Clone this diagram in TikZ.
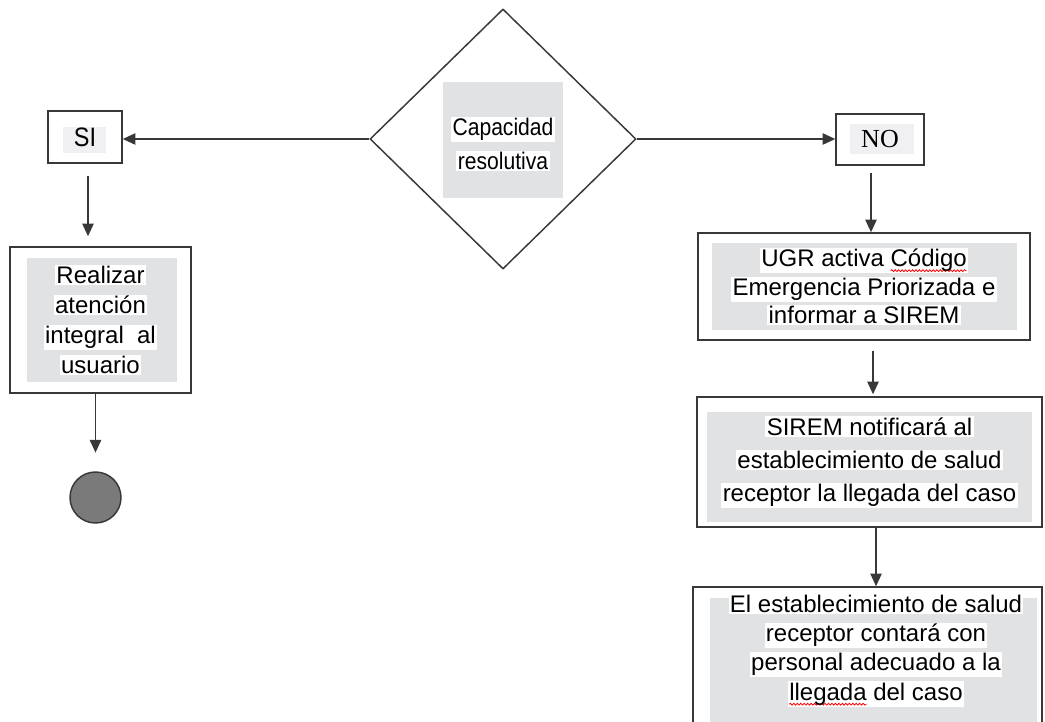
\documentclass[tikz,border=0pt]{standalone}
\usepackage{fontspec}
\setmainfont{Liberation Sans}
\newfontfamily\timesno{Liberation Serif}
\newfontfamily\condsans[FakeStretch=0.88]{Liberation Sans}
\usetikzlibrary{shapes.geometric,arrows.meta,decorations.pathmorphing}

% white strip behind each line of text
\newcommand{\hl}[1]{{\setlength{\fboxsep}{1pt}\colorbox{white}{#1}}}
% red spell-check wave under a word
\newdimen\wavelen
\newcommand{\redwave}[1]{\setbox0\hbox{#1}\wavelen=\wd0\rlap{\tikz[overlay]\draw[red, line width=0.6pt, decorate, decoration={snake, amplitude=0.7pt, segment length=2.6pt}] (0pt,-3pt) -- (\wavelen,-3pt);}\box0\relax}

\begin{document}
\begin{tikzpicture}[x=0.75pt, y=-0.75pt, >={Triangle[length=9.5pt,width=8.5pt]}]
			\definecolor{linegray}{rgb}{0.22,0.22,0.22}
				\definecolor{patchgray}{rgb}{0.88,0.885,0.895}
				\tikzset{
					box/.style={draw=linegray, line width=1.1pt, rectangle, inner sep=0pt, align=center},
					flow/.style={draw=linegray, line width=1.1pt, ->}
				}
				
				\useasboundingbox (0,0) rectangle (1045,721);
				\clip (0,0) rectangle (1045,721);
				
				% grey patches of the scan
				\fill[patchgray] (443,82) rectangle (563,198);
				\fill[patchgray!50] (63,127) rectangle (106,153);
				\fill[patchgray!50] (850,124) rectangle (914,154);
				\fill[patchgray] (27,258) rectangle (177,382);
				\fill[patchgray] (712,243) rectangle (1017,330);
				\fill[patchgray] (707,412) rectangle (1032,522);
				\fill[patchgray] (710,598) rectangle (1037,730);
				
				\node[shape=diamond, draw=linegray, line width=1.1pt, inner sep=0pt, minimum width=199.5pt, minimum height=195pt] (cap) at (503,139) {};
				\node[align=center, inner sep=0pt, font=\condsans\fontsize{18}{26}\selectfont] (captxt) at (503,144) {\hl{Capacidad}\\\hl{resolutiva}};
				
				\node[box, minimum width=55.5pt, minimum height=39pt, font=\condsans\fontsize{20}{22}\selectfont] (si) at (85,137) {SI};
				\node[box, minimum width=66pt, minimum height=38.25pt, font=\timesno\fontsize{19.5}{22}\selectfont] (no) at (880,139.5) {NO};
				
				\node[box, minimum width=135.75pt, minimum height=109.5pt, font=\fontsize{18}{22.5}\selectfont] (realizar) at (100.5,320) {\hl{Realizar}\\\hl{atención}\\\hl{integral\ \ al}\\\hl{usuario}};
				\node[circle, draw=linegray, line width=1.1pt, fill=black!52, minimum size=38.25pt, inner sep=0pt] (fin) at (95.5,497.5) {};
				
				\node[box, minimum width=249pt, minimum height=80.25pt, font=\fontsize{18}{21.4}\selectfont] (ugr) at (864,286.5) {\hl{UGR activa \redwave{Código}}\\\hl{Emergencia Priorizada e}\\\hl{informar a SIREM}};
				\node[box, minimum width=258.75pt, minimum height=97.5pt, font=\fontsize{18}{25}\selectfont] (sirem) at (869.5,462) {\hl{SIREM notificará al}\\\hl{establecimiento de salud}\\\hl{receptor la llegada del caso}};
				\node[box, minimum width=261.75pt, minimum height=129.75pt] (llegada) at (867.5,673.5) {};
				\node[align=center, inner sep=0pt, font=\fontsize{18}{22}\selectfont] (llegadatxt) at (876,650) {\hl{El establecimiento de salud}\\\hl{receptor contará con}\\\hl{personal adecuado a la}\\\hl{\redwave{llegada} del caso}};
				
				\draw[flow] (cap.west) -- (cap.west -| si.east);
				\draw[flow] (cap.east) -- (cap.east -| no.west);
				\draw[flow, shorten >=7.5pt] ([xshift=2.25pt,yshift=-9pt]si.south) -- ([xshift=2.25pt]si.south |- realizar.north);
				\draw[flow, shorten >=14pt] (realizar.south -| fin.north) -- (fin.north);
				\draw[flow] ([xshift=-6.75pt,yshift=-5.25pt]no.south) -- ([xshift=-6.75pt]no.south |- ugr.north);
				\draw[flow, shorten >=1.5pt] ([xshift=6.75pt,yshift=-7.5pt]ugr.south) -- ([xshift=6.75pt]ugr.south |- sirem.north);
				\draw[flow] ([xshift=4.9pt]sirem.south) -- ([xshift=4.9pt]sirem.south |- llegada.north);
		\end{tikzpicture}
\end{document}
